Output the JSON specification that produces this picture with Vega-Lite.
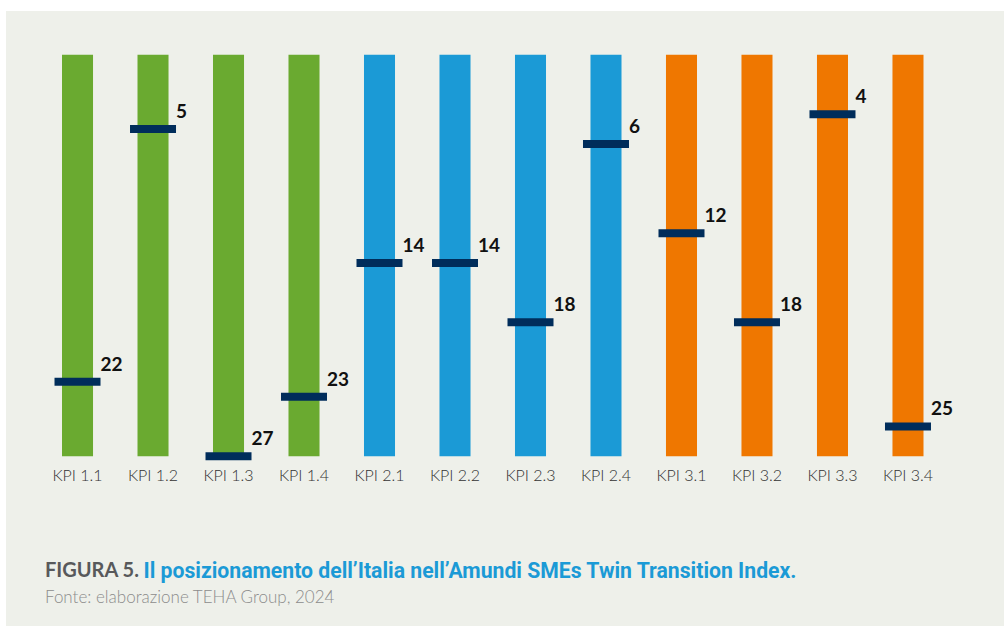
{
  "$schema": "https://vega.github.io/schema/vega-lite/v6.json",
  "width": 998,
  "height": 615,
  "autosize": {"type": "none"},
  "padding": {"left": 6, "top": 11, "right": 0, "bottom": 0},
  "background": "#ffffff",
  "config": {"view": {"fill": "#eef0ea", "stroke": null}},
  "title": {
    "text": "FIGURA 5.",
    "subtitle": "Fonte: elaborazione TEHA Group, 2024",
    "orient": "bottom",
    "anchor": "start",
    "frame": "group",
    "offset": -65,
    "dx": 39,
    "font": "Lato",
    "fontSize": 20,
    "fontWeight": "bold",
    "color": "#58595b",
    "subtitleFont": "Lato",
    "subtitleFontSize": 17,
    "subtitleFontWeight": 300,
    "subtitleColor": "#8c8c8c",
    "subtitlePadding": 9
  },
  "data": {
    "values": [
      {"kpi": "KPI 1.1", "group": "1", "rank": 22},
      {"kpi": "KPI 1.2", "group": "1", "rank": 5},
      {"kpi": "KPI 1.3", "group": "1", "rank": 27},
      {"kpi": "KPI 1.4", "group": "1", "rank": 23},
      {"kpi": "KPI 2.1", "group": "2", "rank": 14},
      {"kpi": "KPI 2.2", "group": "2", "rank": 14},
      {"kpi": "KPI 2.3", "group": "2", "rank": 18},
      {"kpi": "KPI 2.4", "group": "2", "rank": 6},
      {"kpi": "KPI 3.1", "group": "3", "rank": 12},
      {"kpi": "KPI 3.2", "group": "3", "rank": 18},
      {"kpi": "KPI 3.3", "group": "3", "rank": 4},
      {"kpi": "KPI 3.4", "group": "3", "rank": 25}
    ]
  },
  "encoding": {
    "x": {
      "field": "kpi",
      "type": "nominal",
      "sort": null,
      "scale": {"range": [56, 917.5], "paddingInner": 0.589, "paddingOuter": 0},
      "axis": {
        "orient": "bottom",
        "offset": -169,
        "domain": false,
        "ticks": false,
        "tickSize": 0,
        "grid": false,
        "labelAngle": 0,
        "labelPadding": 10,
        "labelFont": "Lato",
        "labelFontSize": 16,
        "labelFontWeight": 300,
        "labelColor": "#333333",
        "title": "Il posizionamento dell’Italia nell’Amundi SMEs Twin Transition Index.",
        "titleX": 137,
        "titleY": 120,
        "titleAlign": "left",
        "titleAnchor": "start",
        "titleBaseline": "alphabetic",
        "titleAngle": 0,
        "titleFont": "Roboto",
        "titleFontSize": 21.2,
        "titleFontWeight": "bold",
        "titleColor": "#1b9ad6"
      }
    }
  },
  "layer": [
    {
      "mark": {"type": "bar"},
      "encoding": {
        "y": {
          "datum": 0,
          "type": "quantitative",
          "scale": {"domain": [-2.939, 38.42], "reverse": true, "nice": false, "zero": false},
          "axis": null
        },
        "y2": {"datum": 27},
        "color": {
          "field": "group",
          "type": "nominal",
          "scale": {"domain": ["1", "2", "3"], "range": ["#6aaa30", "#1b9ad6", "#ef7700"]},
          "legend": null
        }
      }
    },
    {
      "mark": {"type": "tick", "size": 46, "thickness": 8, "color": "#002d5b", "opacity": 1},
      "encoding": {
        "y": {"field": "rank", "type": "quantitative"}
      }
    },
    {
      "mark": {
        "type": "text",
        "align": "left",
        "baseline": "alphabetic",
        "dx": 23,
        "dy": -11,
        "font": "Lato",
        "fontSize": 19,
        "fontWeight": "bold",
        "color": "#111111"
      },
      "encoding": {
        "y": {"field": "rank", "type": "quantitative"},
        "text": {"field": "rank", "type": "quantitative"}
      }
    }
  ]
}
